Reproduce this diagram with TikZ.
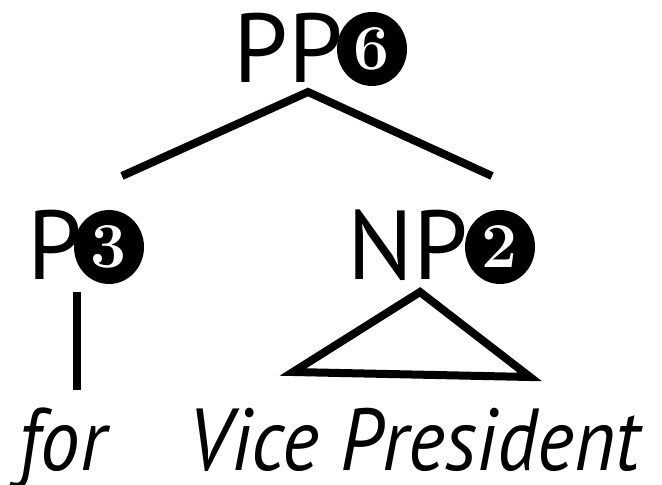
\documentclass[tikz,border=0pt]{standalone}
\usepackage{fontspec}
\usepackage{tikz}
\usetikzlibrary{positioning,shapes.geometric}
\newfontfamily\catfont{PT Sans}[ItalicFeatures={FakeStretch=0.9}]
\newfontfamily\digitfont{Latin Modern Roman}
\tikzset{
	cat/.style={anchor=base west, inner sep=0pt, font=\catfont\fontsize{49}{50}\selectfont},
	word/.style={anchor=base west, inner sep=0pt, font=\catfont\itshape\fontsize{44}{45}\selectfont},
	numblob/.style={ellipse, fill=black, text=white, inner sep=0pt, minimum width=35pt, minimum height=37pt, font=\digitfont\bfseries\fontsize{32}{32}\selectfont},
	branch/.style={line width=4pt}
}

\begin{document}
\begin{tikzpicture}[x=0.5pt,y=-0.5pt]
			\useasboundingbox (0,0) rectangle (662,485);
			% category labels with their numbers
			\node[cat] (pp) at (233,83) {PP};
			\node[numblob] (ppnum) at (372,49) {6};
			\node[cat] (p) at (27,280) {P};
			\node[numblob] (pnum) at (109,247) {3};
			\node[cat] (np) at (347,280) {NP};
			\node[numblob] (npnum) at (500,247) {2};
			
			% words
			\node[word] (for) at (18,470) {for};
			\node[word] (vp) at (188,470) {Vice President};
			
			% branch points
			\coordinate (ppjoin) at (308,92);
			\coordinate (pjoin) at (122,176);
			\coordinate (npjoin) at (492,176);
			\coordinate (ptop) at (77,292);
			\coordinate (pbot) at (77,390);
			\coordinate (nptop) at (420,292);
			\coordinate (npleft) at (293,372);
			\coordinate (npright) at (530,377);
			
			% branches
			\draw[branch] (pjoin) -- (ppjoin) -- (npjoin);
			\draw[branch] (ptop) -- (pbot);
			\draw[branch] (nptop) -- (npleft) -- (npright) -- cycle;
		\end{tikzpicture}
\end{document}
